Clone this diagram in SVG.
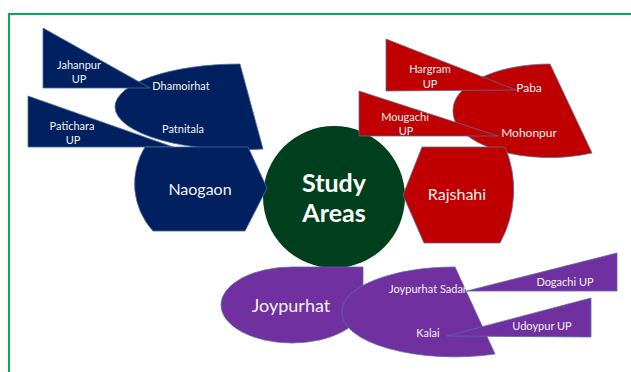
<svg xmlns="http://www.w3.org/2000/svg" width="631" height="372" viewBox="0 0 631 372">
<style>
.blue{fill:#002060;stroke:#4f6a9c;stroke-width:0.8}
.red{fill:#c00000;stroke:#5a6d96;stroke-width:0.8}
.purple{fill:#7030a0;stroke:#5a6aa8;stroke-width:0.8}
.t{font-family:Lato,"Liberation Sans",sans-serif;fill:#f2f2f2;text-anchor:middle}
.s{font-size:11px}
.m{font-size:16px}
.b{font-size:25px;font-weight:bold;fill:#fff}
</style>
<rect x="9" y="14" width="640" height="380" fill="none" stroke="#00b050" stroke-width="2"/>
<g id="center">
<circle cx="334" cy="197" r="71" fill="#003f1e"/>
<text class="t b" x="334" y="192">Study</text>
<text class="t b" x="334" y="222">Areas</text>
</g>
<g id="dhamoirhat">
<path class="blue" d="M240,64 L263,149 A125,43 0 0 1 115,107 A125,43 0 0 1 240,64 Z"/>
<text class="t s" x="181" y="90">Dhamoirhat</text>
<text class="t s" x="183" y="133">Patnitala</text>
</g>
<g id="jahanpur">
<path class="blue" d="M43,28 L43,88 L150,88 Z"/>
<text class="t s" x="79" y="69">Jahanpur</text>
<text class="t s" x="79" y="83">UP</text>
</g>
<g id="patichara">
<path class="blue" d="M28,96 L28,147 L173,147 Z"/>
<text class="t s" x="72" y="130">Patichara</text>
<text class="t s" x="73" y="144">UP</text>
</g>
<g id="naogaon">
<path class="blue" d="M145,147 L248,147 L267,188 L245,231 L153,231 A70,70 0 0 1 145,147 Z"/>
<text class="t m" x="200" y="195">Naogaon</text>
</g>
<g id="paba">
<path class="red" d="M550,64 L592,153 A97,46 0 0 1 453,110 A97,46 0 0 1 550,64 Z"/>
<text class="t s" x="529" y="92" style="font-size:12px">Paba</text>
<text class="t s" x="529" y="137" style="font-size:12px">Mohonpur</text>
</g>
<g id="hargram">
<path class="red" d="M386,39 L386,91 L516,90 Z"/>
<text class="t s" x="430" y="73">Hargram</text>
<text class="t s" x="430" y="88">UP</text>
</g>
<g id="mougachi">
<path class="red" d="M359,91 L359,136 L498,136 Z"/>
<text class="t s" x="405" y="121">Mougachi</text>
<text class="t s" x="406" y="135">UP</text>
</g>
<g id="rajshahi">
<path class="red" d="M422,147 L505,147 A110,110 0 0 1 500,243 L424,243 L403,195 Z"/>
<text class="t m" x="457" y="200">Rajshahi</text>
</g>
<g id="joypurhat">
<path class="purple" d="M221,305 A71,38 0 0 1 292,267 L363,267 L363,305 A71,38 0 0 1 292,343 A71,38 0 0 1 221,305 Z"/>
<text class="t" x="291" y="312" style="font-size:18px">Joypurhat</text>
</g>
<g id="sadar">
<path class="purple" d="M455,267 L495,354 A113,44 0 0 1 342,311 A113,44 0 0 1 455,267 Z"/>
<text class="t s" x="428" y="293">Joypurhat Sadar</text>
<text class="t s" x="428" y="337">Kalai</text>
</g>
<g id="dogachi">
<path class="purple" d="M617,253 L617,291 L467,291 Z"/>
<text class="t s" x="565" y="286">Dogachi UP</text>
</g>
<g id="udoypur">
<path class="purple" d="M591,298 L591,337 L447,336 Z"/>
<text class="t s" x="542" y="330">Udoypur UP</text>
</g>
<g id="connectors"></g>
</svg>
